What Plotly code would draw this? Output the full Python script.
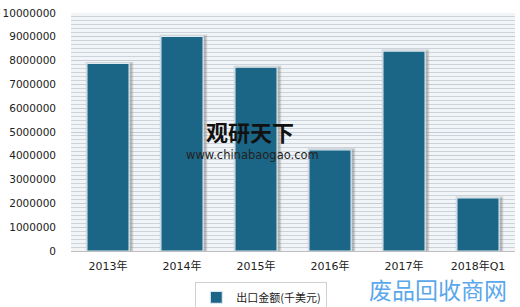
import plotly.graph_objects as go

categories = ["2013年", "2014年", "2015年", "2016年", "2017年", "2018年Q1"]
values = [7880000, 9020000, 7720000, 4250000, 8400000, 2230000]
series_name = "出口金额(千美元)"
y_ticks = [0, 1000000, 2000000, 3000000, 4000000, 5000000, 6000000, 7000000, 8000000, 9000000, 10000000]

BAR = "#1b6586"
FONT = "DejaVu Sans, Noto Sans CJK SC"

fig = go.Figure()
# soft shadow behind bars
fig.add_trace(go.Bar(
    x=categories, y=values, width=0.6, offset=-0.28,
    marker=dict(color="rgba(110,110,110,0.35)", line=dict(color="rgba(140,140,140,0.35)", width=3)),
    hoverinfo="skip", showlegend=False,
))
fig.add_trace(go.Bar(
    x=categories, y=values, name=series_name, width=0.57,
    marker=dict(color=BAR, line=dict(color="#dbe9f1", width=1.2)),
))

fig.update_layout(
    width=520, height=307,
    margin=dict(l=71, r=5, t=13, b=56, autoexpand=False),
    paper_bgcolor="white", plot_bgcolor="#f1f5f8",
    barmode="overlay",
    font=dict(family=FONT, size=11, color="#333333"),
    showlegend=True,
    legend=dict(orientation="h", x=0.28, xanchor="left",
                y=-0.13, yanchor="top",
                bgcolor="white", bordercolor="#d0d0d0", borderwidth=1,
                font=dict(family="Noto Sans CJK SC", size=11, color="#222222"),
                itemwidth=30),
)
fig.update_xaxes(showgrid=False, tickfont=dict(size=11, family=FONT, color="#222222"),
                 showline=True, linecolor="#bfbfbf", linewidth=1, automargin=False,
                 ticks="", ticklabelstandoff=5)
fig.update_yaxes(range=[0, 10000000], tickvals=y_ticks,
                 ticktext=[str(v) for v in y_ticks], automargin=False,
                 tickfont=dict(size=10.5, family=FONT, color="#222222"),
                 showgrid=True, gridcolor="#c5ccd3", gridwidth=1.2,
                 minor=dict(dtick=1000000 / 6, showgrid=True, gridcolor="#ccd3da", gridwidth=1.2),
                 zeroline=False, showline=False, ticks="", ticklabelstandoff=14)

# watermark texts
fig.add_annotation(xref="paper", yref="paper", x=0.300, y=0.505, xanchor="left", yanchor="middle",
                   text="<b>观研天下</b>", showarrow=False,
                   font=dict(family="Noto Sans CJK SC", size=22, color="#111111"))
fig.add_annotation(xref="paper", yref="paper", x=0.255, y=0.405, xanchor="left", yanchor="middle",
                   text="www.chinabaogao.com", showarrow=False,
                   font=dict(family="DejaVu Sans", size=11.5, color="#222222"))
fig.add_annotation(xref="paper", yref="paper", x=0.985, y=-0.235, xanchor="right", yanchor="bottom",
                   text="废品回收商网", showarrow=False, borderpad=0,
                   font=dict(family="Noto Sans CJK SC", size=23, color="#5aa7ec"))

fig.write_html("out.html")
